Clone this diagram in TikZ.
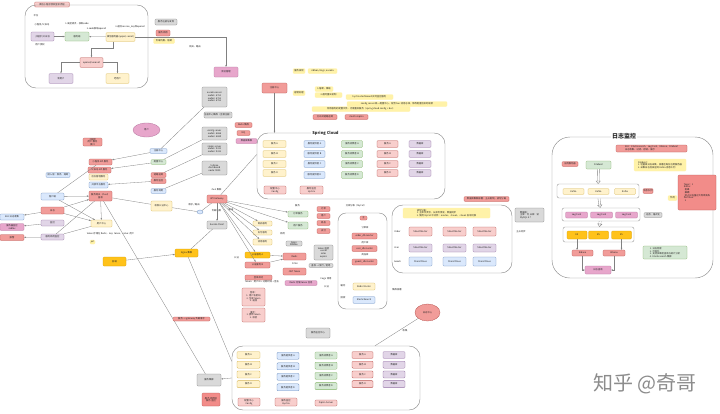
\documentclass[tikz,border=0pt]{standalone}
\usepackage{fontspec}
\setmainfont{Noto Sans CJK SC}
\usetikzlibrary{arrows.meta,shapes.geometric}
\definecolor{yelF}{HTML}{FFF2CC}\definecolor{yelD}{HTML}{D6B656}
\definecolor{bluF}{HTML}{DAE8FC}\definecolor{bluD}{HTML}{6C8EBF}
\definecolor{grnF}{HTML}{D5E8D4}\definecolor{grnD}{HTML}{82B366}
\definecolor{redF}{HTML}{F19C99}\definecolor{redD}{HTML}{B85450}
\definecolor{lrdF}{HTML}{F8CECC}\definecolor{lrdD}{HTML}{B85450}
\definecolor{purF}{HTML}{E1D5E7}\definecolor{purD}{HTML}{9673A6}
\definecolor{orgF}{HTML}{FFC21A}\definecolor{orgD}{HTML}{D79B00}
\definecolor{gryF}{HTML}{D9D9D9}\definecolor{gryD}{HTML}{808080}
\definecolor{pnkF}{HTML}{E7A6CB}\definecolor{pnkD}{HTML}{B5739D}
\definecolor{ylwF}{HTML}{FFF2A8}\definecolor{ylwD}{HTML}{FFF2A8}
\definecolor{rrdF}{HTML}{F28C89}\definecolor{rrdD}{HTML}{B85450}
\newcommand\mytiny{\fontsize{2.3}{2.7}\selectfont}
\begin{document}
\begin{tikzpicture}[x=1pt,y=-1pt,
  bx/.style={draw=#1D,fill=#1F,rounded corners=1pt,inner sep=0.2pt,font=\mytiny,align=center,line width=0.3pt,text=black!85},
  sz/.style 2 args={minimum width=#1,minimum height=#2},
  frm/.style={draw=black!45,rounded corners=11pt,line width=0.45pt},
  rowf/.style={draw=black!40,rounded corners=2pt,line width=0.4pt,fill=white},
  ln/.style={draw=black!50,line width=0.3pt},
  ar/.style={ln,-{Stealth[length=2pt,width=1.6pt]}},
  tx/.style={font=\mytiny,inner sep=0.2pt,align=center,text=black!85},
  hol/.style={draw=black!50,line width=0.35pt,double=white,double distance=1.6pt,-{Triangle[open,length=3pt,width=5pt]}},
]
\fill[white] (0,0) rectangle (720,413);
\useasboundingbox (0,0) rectangle (720,413);

% ---------- top-left: login flow ----------
\node[bx=lrd,sz={35}{5}] (tl0) at (52,4.5) {微信小程序授权登录流程};
\node[frm,sz={123}{83}] (f1) at (86.5,46.5) {};
\node[tx] (t1) at (36,16) {平台};
\node[tx] (t2) at (42,25) {小程序/公众号};
\node[tx] (t3) at (40,45) {用户授权};
\node[bx=pur,sz={23}{9}] (p1) at (42.5,36.5) {小程序/公众号};
\node[bx=grn,sz={24}{9}] (g1) at (77,36.5) {服务端};
\node[bx=yel,sz={29}{9}] (y1) at (120.5,37) {微信服务器(appid, secret)};
\node[tx] (t4) at (77,23.5) {1.发起请求，获取code};
\node[tx] (t5) at (96.5,29) {2.code换取openid};
\node[tx] (t6) at (130,27) {3.返回session\_key和openid};
\node[bx=lrd,sz={23}{10}] (pk1) at (91.5,62.5) {openid/unionid};
\node[bx=pur,sz={24}{10}] (p2) at (61,78.5) {新用户};
\node[bx=yel,sz={23}{10}] (y2) at (117.5,78.5) {老用户};
\draw[ar] (p1) -- (g1);
\draw[ar] (y1) -- (g1);
\draw[ar] ([xshift=-7pt]y1.south) -- ++(0,6) -| (pk1.north);
\draw[ar] (pk1.west) -| (p2.north);
\draw[ar] (pk1.east) -| (y2.north);

\node[bx=gry,sz={22}{6}] (q1) at (166,22) {服务注册与发现};
\node[bx=red,sz={14}{6}] (q2) at (163,33) {服务调用};
\node[bx=ylw,sz={21}{5}] (q3) at (164,41) {负载均衡、熔断};
\node[tx] (t7) at (195,47) {网关、路由};
\node[bx=pnk,sz={24}{10}] (pk2) at (226,72) {会话管理};
\draw[ar] (y1.east) -| (pk2.north);

\node[ellipse,bx=pnk,sz={27}{14}] (e1) at (146.5,130) {用户};
\node[bx=red,sz={19}{8}] (rl) at (92.5,142) {小程序\\用户 服务\\接口};

% ---------- spring cloud header ----------
\node[bx=red,sz={25}{10}] (r1) at (274.5,88) {注册中心};
\node[bx=ylw,sz={12}{5}] (k1) at (299,71) {服务发现};
\node[bx=ylw,sz={29}{5}] (k2) at (322.5,71) {ribbon, feign, eureka};
\node[bx=ylw,sz={12}{5}] (k3) at (299,93) {容错处理};
\node[bx=ylw,sz={18}{5}] (k4) at (324,89) {1.熔断、降级};
\node[bx=ylw,sz={27}{5}] (k5) at (328.5,95) {2.超时重试机制};
\node[bx=ylw,sz={47}{5}] (k6) at (369.5,97) {hystrix dashboard 实时监控服务};
\node[bx=ylw,sz={100}{5}] (k7) at (397,104) {config server 统一配置中心，配合 bus 消息总线，修改配置后实时刷新};
\node[bx=ylw,sz={98}{5}] (k8) at (361,109) {所有服务的配置文件，无需重启服务（spring cloud config + bus）};
\node[bx=red,sz={24}{5}] (k9) at (325,117) {分布式链路追踪};
\node[bx=red,sz={23}{5}] (k10) at (356.5,117) {sleuth+zipkin};

\node[bx=gry,sz={25}{20}] (gr1) at (214.5,97) {eureka server\\node1: 8761\\node2: 8762\\node3: 8763};
\node[bx=gry,sz={28}{6}] (gr2) at (218,115) {注册中心集群（互相注册）};
\node[bx=gry,sz={25}{13}] (gr3) at (214.5,133.5) {config server\\node1: 8888\\node2: 8889};
\node[bx=gry,sz={25}{12}] (gr4) at (214.5,149) {zipkin server\\node1: 9411\\node2: 9412};
\node[bx=gry,sz={25}{14}] (gr5) at (214.5,168) {turbine\\dashboard\\node: 9000};
\node[bx=red,sz={17}{5}] (s1) at (243.5,125) {Redis 集群};
\node[bx=red,sz={13}{5}] (s2) at (243.5,133) {MQ};
\node[bx=pnk,sz={21}{5}] (s3) at (246.5,141) {数据库集群};

\node[frm,sz={188}{66}] (scf) at (351,166) {};
\node[tx,fill=white,font=\fontsize{4}{5}\selectfont\bfseries,inner sep=1pt] (sct) at (325.5,133) {Spring Cloud};
\draw[ar] (r1) -- (r1 |- scf.north);
\foreach \i/\y/\l in {1/144/A,2/154/B,3/164/C,4/173/D}{
  \node[bx=yel,sz={23}{7}] (sa\i) at (274.5,\y) {服务 \l};
  \node[bx=lrd,sz={21}{7}] (sd\i) at (387.5,\y) {服务 \l};
  \node[bx=pur,sz={22}{7}] (se\i) at (420,\y) {数据库};
}
\foreach \i/\y/\l in {1/144/A,2/154/B,3/164/C,4/175/D}{
  \node[bx=blu,sz={21}{7}] (sb\i) at (314.5,\y) {服务提供者 \l};
  \node[bx=grn,sz={21}{7}] (sc\i) at (352,\y) {服务消费者 \l};
}
\node[bx=lrd,sz={22}{8}] (sf1) at (275,190) {配置中心\\Config};
\node[bx=lrd,sz={23}{8}] (sf2) at (311.5,190) {服务监控\\Hystrix};

% ---------- left cluster ----------
\node[bx=blu,sz={24}{5}] (lbl) at (58,175) {接入层：限流、熔断};
\node[bx=red,sz={23}{6}] (rb1) at (100.5,162) {小程序 API 服务};
\node[bx=red,sz={23}{6}] (rb2) at (99.5,170) {公众号 API 服务};
\node[bx=yel,sz={19}{6}] (yb1) at (98.5,177) {后台管理服务};
\node[bx=blu,sz={19}{6}] (bb1) at (98.5,185) {开放平台服务};
\node[bx=blu,sz={17}{5}] (sb01) at (158.5,151) {注册中心};
\node[bx=grn,sz={15}{5}] (sg01) at (158.5,162) {配置中心};
\node[bx=red,sz={15}{5}] (sr01) at (158.5,175) {链路追踪};
\node[bx=red,sz={15}{5}] (sr02) at (158.5,181) {服务监控};
\node[bx=blu,sz={15}{5}] (sb02) at (158.5,191) {服务调用};
\node[bx=blu,sz={23}{7}] (nb) at (52.5,196.5) {客户端};
\node[bx=red,sz={23}{10}] (c1) at (100.5,196) {服务网关（Zuul）\\鉴权};
\node[bx=yel,sz={21}{10}] (y3) at (161.5,206) {权限认证中心};
\node[bx=red,sz={23}{7}] (l2) at (52.5,210.5) {日志};
\node[bx=blu,sz={24}{6}] (l3) at (12,217) {ELK 日志收集};
\node[bx=yel,sz={21}{7}] (y4) at (101.5,223.5) {用户中心};
\node[bx=pur,sz={23}{6}] (l4) at (52.5,223) {监控};
\node[bx=pnk,sz={24}{7}] (l5) at (12,227) {服务器监控\\zabbix};
\node[bx=red,sz={24}{6}] (l6) at (12,237.5) {报警};
\node[bx=pur,sz={23}{6}] (l7) at (52.5,237) {服务调用监控};
\node[tx] (t8) at (110.5,234) {token 存储在 Redis，key: token，value: 用户};
\node[bx=ylw,sz={5}{4}] (t9) at (92.5,242) {jwt};
\node[bx=org,sz={23}{9}] (o1) at (114.5,261.5) {前端};
\node[bx=org,sz={23}{8}] (o2) at (186.5,253) {Nginx 集群};

\draw[ln] (nb) -- (rb1);
\draw[ar] (nb) -- (c1);
\draw[ar] (nb) -- (y4);
\draw[ar] (l2) -- (c1);
\draw[ar] (l2) -- (y4);
\draw[ar] (l2) -- (l3);
\draw[ar] (l4) -- (l5);
\draw[ar] (l7) -- (l6);
\draw[ln] (l7) -- (c1);
\draw[ln] (l7) -- (y4);
\draw[ar] (c1) -- (y4);
\draw[ar] (sb01) -- (rb1);
\draw[ar] (sg01) -- (rb2);
\draw[ar] (sr02) -- (bb1);
\draw[ln] (sb01) -- (gr1);
\draw[ln] (sg01) -- (gr3);
\draw[ln] (sr01) -- (gr4);
\draw[ln] (sb02) -- (gr5);
\draw[ln] (c1) -- (y3);
\draw[ar] (o1) -- (o2);

% ---------- gateway ----------
\node[tx] (t10) at (216.5,190) {Zuul 集群};
\node[bx=red,sz={20}{8}] (gw) at (217,199) {API Gateway};
\node[tx] (t11) at (216.5,211) {负载均衡};
\node[bx=gry,sz={20}{8}] (gz) at (217,225) {Eureka Client};
\node[tx] (t12) at (194,205) {请求 / 路由};
\node[ellipse,bx=blu,sz={6}{4}] (bel) at (200,212) {};
\draw[ln] (y3) -- (bel);
\draw[ln] (bel) -- (gw);
\draw[ar] (gw) -- (gz);
\draw[ln] (o2) -- (gz);

\node[tx] (t13) at (297.5,206) {服务};
\node[tx] (t14) at (231,210) {路由};
\node[bx=grn,sz={20}{6}] (sga) at (298,214) {订单服务};
\node[bx=grn,sz={20}{7}] (sgb) at (298,225.5) {用户服务};
\node[bx=yel,sz={19}{5}] (yy1) at (262.5,223.5) {商品服务};
\node[bx=yel,sz={19}{5}] (yy2) at (262.5,232.5) {支付服务};
\node[bx=yel,sz={19}{6}] (yy3) at (262.5,242) {消息服务};
\node[tx] (t15) at (236.5,258) {认证};
\node[bx=org,sz={25}{6}] (ob) at (257.5,255) {认证服务 A};
\node[bx=red,sz={25}{6}] (rbx) at (257.5,265) {认证服务 B};
\foreach \i/\y/\l in {1/209/订单,2/216/用户,3/223/商品,4/231/支付}{
  \node[bx=red,sz={13}{5}] (rs\i) at (323.5,\y) {\l};
}
\node[tx] (t16) at (282.5,234) {调用};
\node[bx=gry,sz={16}{5}] (gs) at (294,243.5) {Feign\\Ribbon};
\node[bx=red,sz={23}{7}] (rf1) at (294.5,256.5) {Redis};
\node[tx] (t17) at (295,264) {Filter};
\node[bx=red,sz={23}{7}] (rf2) at (294.5,271.5) {JWT Token};
\node[bx=gry,sz={19}{15}] (gs2) at (323.5,252.5) {token 校验\\userId\\roles\\expire};
\node[bx=gry,sz={24}{4}] (gs3) at (321,265.5) {鉴权 → 放行 / 拒绝};
\draw[ln] (gw) -- (scf.173);
\draw[ar] (gw) -- (sga);
\draw[ar] (gw) -- (sgb);
\draw[ar] (gw) -- (yy1);
\draw[ar] (gw) -- (yy2);
\draw[ar] (gw) -- (yy3);
\draw[ar] (gw) -- (ob);
\draw[ar] (gw) -- (rbx);
\draw[ar] (ob) -- (rf1);
\draw[ar] (rbx) -- (rf1);

\node[bx=red,sz={27}{5}] (rt1) at (258.5,277.5) {登录成功};
\node[tx] (t18) at (262,282) {Token：用户ID + 过期时间 + 签名};
\node[bx=pnk,sz={32}{5}] (pk3) at (301,283) {Redis 存储 token 信息};
\node[tx] (t19) at (326,279) {Feign 调用};
\node[tx] (t20) at (326.5,287) {认证};
\node[bx=lrd,sz={23}{18}] (pm1) at (253.5,297) {登录：\\1. 用户名密码\\2. 生成 token\\3. 返回};
\node[bx=lrd,sz={23}{14}] (pm2) at (253.5,315) {请求：\\1. 携带 token\\2. 校验};

% ---------- db cluster ----------
\node[tx] (ct0) at (356,206) {分库分表（MyCat）};
\node[frm,sz={49}{96},rounded corners=8pt] (cf) at (362.5,261) {};
\node[bx=red,sz={7}{4}] (c0) at (363.5,218) {主};
\node[tx] (ct1) at (365,228) {订单库};
\node[bx=red,sz={25}{6}] (cr1) at (364.5,236) {order\_db master};
\node[tx] (ct2) at (365,243) {用户库};
\node[bx=red,sz={25}{6}] (cr2) at (364.5,248.5) {user\_db master};
\node[tx] (ct3) at (365,255) {商品库};
\node[bx=red,sz={25}{6}] (cr3) at (364.5,262) {goods\_db master};
\node[tx] (ct4) at (343,286) {缓存};
\node[bx=yel,sz={22}{7}] (cy) at (364,286.5) {Redis Master};
\node[tx] (ct5) at (343,298) {搜索};
\node[bx=blu,sz={22}{7}] (cb) at (364,300) {ElasticSearch};
\node[tx] (ct6) at (397,290) {集群部署};

% ---------- sharding frame ----------
\node[bx=red,sz={45}{5}] (shl) at (486.5,199) {数据库集群部署：主从复制，读写分离};
\node[frm,sz={120}{68}] (shf) at (452,239) {};
\node[bx=ylw,sz={87}{10},align=left] (shn) at (446.5,213) {读写分离：\\1. 主库负责写，从库负责读，数据同步\\2. 使用 MyCat 中间件：master、slave1、slave2 自动切换};
\node[tx] (sl1) at (397.5,232) {Order};
\node[tx] (sl2) at (396.5,248) {User};
\node[tx] (sl3) at (397.5,262) {Goods};
\foreach \i/\x in {1/420.5,2/454.5,3/484.5}{
  \node[bx=lrd,sz={23}{9}] (shr\i) at (\x,231.5) {Shard Master};
  \node[bx=pur,sz={23}{8}] (shp\i) at (\x,248) {Shard Master};
  \node[bx=blu,sz={23}{9}] (shb\i) at (\x,261.5) {Shard Slave};
}
\node[bx=gry,sz={29}{14},align=left] (dbn) at (529.5,215) {数据库：\\主库：写 从库：读\\MySQL 5.7};
\node[tx] (dbt) at (521,232) {主从同步};

% ---------- log ellipse and bottom ----------
\node[ellipse,bx=red,sz={25}{17}] (e2) at (427.5,312.5) {日志中心};
\node[tx] (t21) at (405,331) {收集};
\node[bx=gry,sz={24}{10}] (gsc) at (318,333) {服务监控中心};
\node[frm,sz={188}{64}] (bf) at (326,378) {};
\foreach \i/\l in {1/A,2/B,3/C,4/D}{
  \pgfmathsetmacro\yy{355+9.7*(\i-1)}
  \node[bx=yel,sz={23}{7}] (ba\i) at (248.5,\yy) {服务 \l};
  \node[bx=blu,sz={22}{7}] (bbx\i) at (288,\yy+0.8*\i) {服务提供者 \l};
  \node[bx=grn,sz={22}{7}] (bc\i) at (326,\yy+0.5*\i) {服务消费者 \l};
  \node[bx=lrd,sz={21}{7}] (bd\i) at (362.5,\yy) {服务 \l};
  \node[bx=pur,sz={22}{7}] (be\i) at (394,\yy) {数据库};
}
\node[bx=lrd,sz={22}{8}] (bf1) at (249,402) {配置中心\\Config};
\node[bx=lrd,sz={22}{8}] (bf2) at (286,402) {服务监控\\Hystrix};
\node[bx=lrd,sz={22}{6}] (bf3) at (326,403) {Zipkin Server};
\node[bx=gry,sz={24}{12}] (gb) at (209,380) {服务集群};
\node[bx=rrd,sz={18}{13}] (rbb) at (211,399.5) {服务 调用链\\服务 监控};
\draw[ar] (bf.west) -- (gb);
\draw[ln] (c1) -- (gb);
\draw[ln] (o2) -- (bf.170);
\draw[ln] (e2) -- ([xshift=49pt]bf.north);
\node[bx=red,sz={37}{4}] (rll) at (191.5,319) {服务 → gateway 负载请求};

% ---------- log monitoring ----------
\node[frm,sz={161}{141},rounded corners=18pt] (lf) at (632.5,207.5) {};
\node[tx,fill=white,font=\fontsize{6}{7}\selectfont\bfseries,inner sep=1pt] (lft) at (624,136) {日志监控};
\node[bx=red,sz={71}{7},align=left] (lr0) at (651.5,148.5) {ELK：Elasticsearch，Logstash，Kibana，Filebeat\\日志收集、过滤、存储、展示};
\node[bx=red,sz={16}{5}] (lr1) at (570,164) {应用服务器};
\node[bx=grn,sz={25}{8}] (fb) at (598.5,165) {Filebeat};
\node[bx=ylw,sz={52}{12},align=left] (ln1) at (660,165) {Filebeat：\\1. 轻量级日志采集，部署在每台应用服务器\\2. 采集日志后发送到 Kafka 消息队列};
\node[rowf,sz={82}{14}] (row1) at (598,191) {};
\foreach \i/\x in {1/573.5,2/598.5,3/625}{\node[bx=yel,sz={21}{6}] (kf\i) at (\x,191.5) {Kafka};}
\node[bx=red,sz={10}{5}] (lr2) at (648,191) {消息队列};
\node[bx=ylw,sz={9}{5}] (ly) at (672.5,198) {作用};
\node[bx=rrd,sz={38}{35},align=left] (lr3) at (697,192.5) {Topic：1\\Kafka：\\\ \ 削峰\\\ \ 解耦\\\ \ 防止日志量过大导致丢失\\Partition：\\\ \ 3};
\node[rowf,sz={78}{13}] (row2) at (601,214.5) {};
\foreach \i/\x in {1/576.5,2/601.5,3/626.5}{\node[bx=pnk,sz={22}{6}] (ls\i) at (\x,215) {Logstash};}
\node[bx=gry,sz={18}{5}] (lg) at (653,215) {过滤、格式化};
\node[rowf,sz={71}{15}] (row3) at (598.5,234.5) {};
\foreach \i/\x in {1/577,2/598.5,3/621.5}{\node[bx=org,sz={20}{8}] (es\i) at (\x,235) {ES};}
\node[bx=red,sz={21}{6}] (kr1) at (582.5,253) {Kibana};
\node[bx=red,sz={22}{6}] (kr2) at (614,253) {Kibana};
\node[bx=pnk,sz={26}{8}] (kb) at (598,270) {日志查询};
\node[bx=grn,sz={44}{13},align=left] (lgn) at (665,252.5) {1. 日志检索\\2. 可视化\\3. 支持多维度查询与统计分析\\4. Elasticsearch 集群};
\draw[hol] (fb) -- (row1);
\draw[hol] (row1) -- (row2);
\draw[hol] (row2) -- (row3);
\draw[ar] (es1.south) -- (es1.south |- kr1.north);
\draw[ar] (es3.south) -- (es3.south |- kr2.north);
\draw[ar] (kr1.south) |- (kb.west);
\draw[ar] (kr2.south) |- (kb.east);

% ---------- watermark ----------
\node[text=black!45,font=\fontsize{20}{20}\selectfont,inner sep=0pt] (wm) at (645,384) {知乎 @奇哥};
\end{tikzpicture}
\end{document}
